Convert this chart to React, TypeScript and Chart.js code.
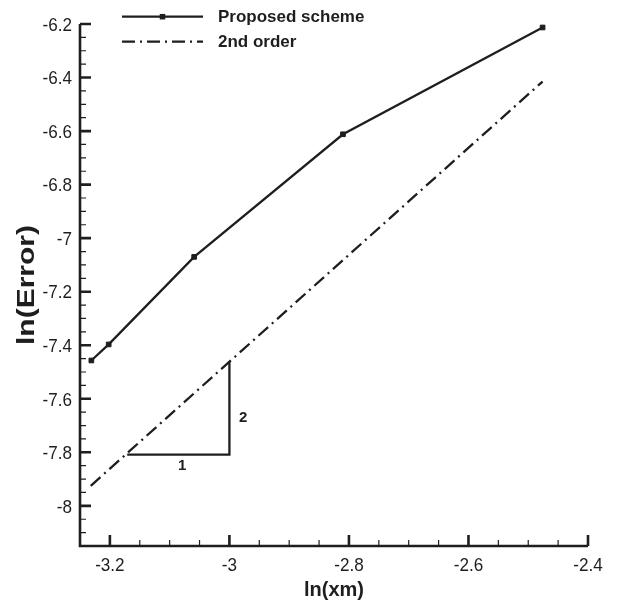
import React, { useEffect, useRef } from 'react';
import { Chart, registerables } from 'chart.js';

Chart.register(...registerables);

// ---- data ----
const proposedX = [-3.231, -3.202, -3.059, -2.81, -2.476];
const proposedY = [-7.457, -7.397, -7.07, -6.612, -6.213];
const secondOrderX = [-3.232, -2.476];
const secondOrderY = [-7.925, -6.415];
const triangleX = [-3.171, -3.0, -3.0];
const triangleY = [-7.809, -7.809, -7.461];
const triangleLabelText = ['1', '2'];
const triangleLabelX = [-3.079, -2.977];
const triangleLabelY = [-7.851, -7.67];

const xMajorTicks = [-3.2, -3.0, -2.8, -2.6, -2.4];
const yMajorTicks = [-8.0, -7.8, -7.6, -7.4, -7.2, -7.0, -6.8, -6.6, -6.4, -6.2];
const xTickLabels = ['-3.2', '-3', '-2.8', '-2.6', '-2.4'];
const yTickLabels = ['-8', '-7.8', '-7.6', '-7.4', '-7.2', '-7', '-6.8', '-6.6', '-6.4', '-6.2'];
const xMinorTicks = [-3.25, -3.15, -3.1, -3.05, -2.95, -2.9, -2.85, -2.75, -2.7, -2.65, -2.55, -2.5, -2.45];
const yMinorTicks = [-8.15, -8.1, -8.05, -7.95, -7.9, -7.85, -7.75, -7.7, -7.65, -7.55, -7.5, -7.45, -7.35, -7.3, -7.25, -7.15, -7.1, -7.05, -6.95, -6.9, -6.85, -6.75, -6.7, -6.65, -6.55, -6.5, -6.45, -6.35, -6.3, -6.25];
const xRange = [-3.25, -2.4];
const yRange = [-8.15, -6.2];

const seriesNames = ['Proposed scheme', '2nd order'];
const xTitle = 'ln(xm)';
const yTitle = 'ln(Error)';

const INK = '#1e1e1e';
const DASH = [13, 5, 2, 5];
const FAMILY = '"Liberation Sans", Arial, Helvetica, sans-serif';

const axesPlugin = {
  id: 'tecplotAxes',
  afterDraw(chart: any) {
    const { ctx, chartArea } = chart;
    const xs = chart.scales.x;
    const ys = chart.scales.y;
    const { left, right, top, bottom } = chartArea;
    ctx.save();
    ctx.strokeStyle = INK;
    ctx.fillStyle = INK;
    ctx.lineCap = 'butt';
    // axis lines
    ctx.lineWidth = 2.6;
    ctx.beginPath();
    ctx.moveTo(left, top);
    ctx.lineTo(left, bottom + 1.3);
    ctx.moveTo(left - 1.3, bottom);
    ctx.lineTo(right, bottom);
    ctx.stroke();
    // major ticks
    ctx.beginPath();
    xMajorTicks.forEach((v) => {
      const px = xs.getPixelForValue(v);
      ctx.moveTo(px, bottom);
      ctx.lineTo(px, bottom - 11);
    });
    yMajorTicks.forEach((v) => {
      const py = ys.getPixelForValue(v);
      ctx.moveTo(left, py);
      ctx.lineTo(left + 11, py);
    });
    ctx.stroke();
    // minor ticks
    ctx.lineWidth = 1.2;
    ctx.beginPath();
    xMinorTicks.forEach((v) => {
      const px = xs.getPixelForValue(v);
      ctx.moveTo(px, bottom);
      ctx.lineTo(px, bottom - 6);
    });
    yMinorTicks.forEach((v) => {
      const py = ys.getPixelForValue(v);
      ctx.moveTo(left, py);
      ctx.lineTo(left + 6, py);
    });
    ctx.stroke();

    // tick labels (slightly condensed, like the original)
    const tickSize = 19;
    const squeeze = 0.9;
    ctx.font = `${tickSize}px ${FAMILY}`;
    ctx.textBaseline = 'alphabetic';
    ctx.textAlign = 'center';
    xMajorTicks.forEach((v, i) => {
      const px = xs.getPixelForValue(v);
      ctx.save();
      ctx.translate(px, bottom + 24.5);
      ctx.scale(squeeze, 1);
      ctx.fillText(xTickLabels[i], 0, 0);
      ctx.restore();
    });
    ctx.textAlign = 'right';
    yMajorTicks.forEach((v, i) => {
      const py = ys.getPixelForValue(v);
      ctx.save();
      ctx.translate(left - 8, py + 6.8);
      ctx.scale(squeeze, 1);
      ctx.fillText(yTickLabels[i], 0, 0);
      ctx.restore();
    });

    // axis titles
    ctx.textAlign = 'center';
    ctx.font = `bold 20px ${FAMILY}`;
    ctx.fillText(xTitle, (left + right) / 2, 596);
    ctx.save();
    ctx.translate(27, (top + bottom) / 2);
    ctx.rotate(-Math.PI / 2);
    ctx.scale(1.25, 1);
    ctx.font = `bold 24px ${FAMILY}`;
    ctx.textBaseline = 'middle';
    ctx.fillText(yTitle, 0, 0);
    ctx.restore();

    // triangle labels
    ctx.font = `bold 15px ${FAMILY}`;
    ctx.textAlign = 'center';
    ctx.textBaseline = 'middle';
    triangleLabelText.forEach((t, i) => {
      ctx.fillText(t, xs.getPixelForValue(triangleLabelX[i]), ys.getPixelForValue(triangleLabelY[i]));
    });

    // legend
    const lx0 = 122;
    const lx1 = 203;
    const ly = [16.7, 41.7];
    ctx.lineWidth = 2.3;
    ctx.beginPath();
    ctx.moveTo(lx0, ly[0]);
    ctx.lineTo(lx1, ly[0]);
    ctx.stroke();
    ctx.fillRect((lx0 + lx1) / 2 - 2.75, ly[0] - 2.75, 5.5, 5.5);
    ctx.setLineDash(DASH);
    ctx.beginPath();
    ctx.moveTo(lx0, ly[1]);
    ctx.lineTo(lx1, ly[1]);
    ctx.stroke();
    ctx.setLineDash([]);
    ctx.font = `bold 17px ${FAMILY}`;
    ctx.textAlign = 'left';
    ctx.textBaseline = 'alphabetic';
    ctx.fillText(seriesNames[0], 218, ly[0] + 5.2);
    ctx.fillText(seriesNames[1], 218, ly[1] + 5.2);
    ctx.restore();
  },
};

export default function App() {
  const ref = useRef<HTMLCanvasElement | null>(null);
  useEffect(() => {
    if (!ref.current) return;
    const chart = new Chart(ref.current, {
      type: 'line',
      data: {
        datasets: [
          {
            label: seriesNames[0],
            data: proposedX.map((x, i) => ({ x, y: proposedY[i] })),
            borderColor: INK,
            backgroundColor: INK,
            borderWidth: 2.3,
            pointStyle: 'rect',
            pointRadius: 3.3,
            pointBorderWidth: 1,
            pointBackgroundColor: INK,
            pointBorderColor: INK,
            tension: 0,
          },
          {
            label: seriesNames[1],
            data: secondOrderX.map((x, i) => ({ x, y: secondOrderY[i] })),
            borderColor: INK,
            borderWidth: 2.3,
            borderDash: DASH,
            pointRadius: 0,
            tension: 0,
          },
          {
            label: 'slope',
            data: triangleX.map((x, i) => ({ x, y: triangleY[i] })),
            borderColor: INK,
            borderWidth: 2.3,
            pointRadius: 0,
            tension: 0,
          },
        ],
      },
      options: {
        responsive: false,
        animation: false,
        devicePixelRatio: 1,
        layout: { padding: { top: 24, right: 30, left: 0, bottom: 0 } },
        plugins: { legend: { display: false }, tooltip: { enabled: false } },
        scales: {
          x: {
            type: 'linear',
            min: xRange[0],
            max: xRange[1],
            afterBuildTicks: (s: any) => {
              s.ticks = xMajorTicks.map((v) => ({ value: v }));
            },
            afterFit: (s: any) => {
              s.height = 59;
            },
            grid: { display: false, drawTicks: false },
            border: { display: false },
            ticks: { display: false },
            title: { display: false, text: xTitle },
          },
          y: {
            type: 'linear',
            min: yRange[0],
            max: yRange[1],
            afterBuildTicks: (s: any) => {
              s.ticks = yMajorTicks.map((v) => ({ value: v }));
            },
            afterFit: (s: any) => {
              s.width = 80;
            },
            grid: { display: false, drawTicks: false },
            border: { display: false },
            ticks: { display: false },
            title: { display: false, text: yTitle },
          },
        },
      },
      plugins: [axesPlugin],
    });
    return () => chart.destroy();
  }, []);
  return (
    <div style={{ position: 'absolute', left: 0, top: 0, width: 618, height: 605, background: '#fff' }}>
      <canvas ref={ref} width={618} height={605} style={{ display: 'block', width: 618, height: 605 }} />
    </div>
  );
}
